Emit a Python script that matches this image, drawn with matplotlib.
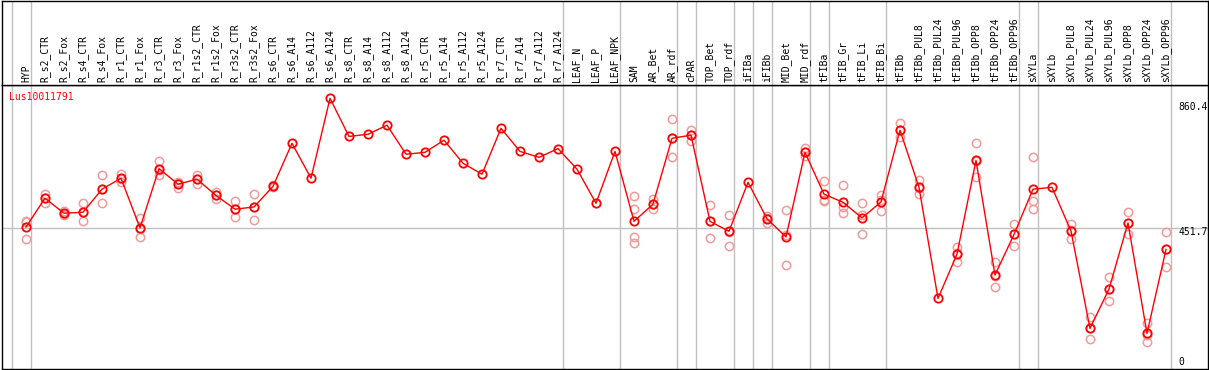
import matplotlib
matplotlib.use("Agg")
import matplotlib.pyplot as plt

gene = "Lus10011791"

samples = [
    "HYP", "R_s2_CTR", "R_s2_Fox", "R_s4_CTR", "R_s4_Fox", "R_r1_CTR", "R_r1_Fox",
    "R_r3_CTR", "R_r3_Fox", "R_r1s2_CTR", "R_r1s2_Fox", "R_r3s2_CTR", "R_r3s2_Fox",
    "R_s6_CTR", "R_s6_A14", "R_s6_A112", "R_s6_A124", "R_s8_CTR", "R_s8_A14",
    "R_s8_A112", "R_s8_A124", "R_r5_CTR", "R_r5_A14", "R_r5_A112", "R_r5_A124",
    "R_r7_CTR", "R_r7_A14", "R_r7_A112", "R_r7_A124", "LEAF_N", "LEAF_P", "LEAF_NPK",
    "SAM", "AR_Bet", "AR_rdf", "cPAR", "TOP_Bet", "TOP_rdf", "iFIBa", "iFIBb",
    "MID_Bet", "MID_rdf", "tFIBa", "tFIB_Gr", "tFIB_Li", "tFIB_Bi", "tFIBb",
    "tFIBb_PUL8", "tFIBb_PUL24", "tFIBb_PUL96", "tFIBb_OPP8", "tFIBb_OPP24",
    "tFIBb_OPP96", "sXYLa", "sXYLb", "sXYLb_PUL8", "sXYLb_PUL24", "sXYLb_PUL96",
    "sXYLb_OPP8", "sXYLb_OPP24", "sXYLb_OPP96",
]

means = [
    455, 547, 499, 502, 576, 611, 452, 642, 592, 608, 556, 512, 519,
    585, 723, 611, 867, 745, 752, 781, 688, 694, 733, 659, 624,
    771, 697, 678, 706, 640, 531, 697,
    473, 528, 739, 749, 473, 441, 598, 481, 423, 694,
    560, 534, 484, 535, 765, 582, 226, 368, 668, 301, 431,
    576, 582, 442, 130, 256, 468, 114, 383,
]

replicates = [
    [475, 470, 415], [560, 548, 531], [507, 497, 493], [531, 502, 474],
    [620, 576, 531], [625, 608, 600], [484, 450, 422], [665, 638, 622],
    [599, 597, 579], [622, 609, 593], [568, 557, 544], [537, 513, 486],
    [560, 520, 476], [588, 585, 582],
    [], [], [], [], [], [], [], [], [], [], [], [], [], [], [], [], [], [],
    [553, 512, 424, 405], [544, 528, 513], [800, 739, 678], [766, 749, 731],
    [524, 475, 420], [492, 438, 393], [], [491, 484, 468],
    [509, 428, 332], [708, 694, 681], [602, 540, 538], [588, 518, 499],
    [531, 493, 432], [558, 542, 505], [788, 765, 743], [605, 581, 561],
    [], [390, 371, 343], [723, 666, 616], [343, 298, 263], [465, 434, 394],
    [678, 537, 512], [], [464, 446, 415], [166, 130, 96], [294, 256, 218],
    [503, 468, 431], [147, 110, 86], [438, 385, 327],
]

# group separators sit just after these sample indices
dividers = [-1, 0, 28, 31, 34, 35, 37, 38, 39, 41, 42, 45, 52, 53, 60]

y_max = 860.4
y_mid = 451.7

W, H = 1209, 370
GRAY = "#c0c0c0"
FONT = "DejaVu Sans Mono"


def px_box(left, top, right, bottom):
    # pixel box (from top-left) -> figure fraction rect
    return [left / W, (H - bottom) / H, (right - left) / W, (bottom - top) / H]


def main():
    fig = plt.figure(figsize=(W / 100, H / 100), dpi=100)
    ax = fig.add_axes(px_box(1.5, 85, 1207.5, 369))
    head = fig.add_axes(px_box(1.5, 0.5, 1207.5, 85))

    xlim = ((1.5 - 26) / 19, (1207.5 - 26) / 19)
    for a in (ax, head):
        a.set_xlim(*xlim)
        a.set_xticks([])
        a.set_yticks([])
        for s in a.spines.values():
            s.set_color("black")
            s.set_linewidth(1.0)
        for d in dividers:
            a.axvline(d + 0.25, color=GRAY, lw=1.0, zorder=0)

    ax.set_ylim(0, 909.7)
    head.set_ylim(0, 1)

    ax.axhline(y_mid, color=GRAY, lw=1.0, zorder=0)

    for i, reps in enumerate(replicates):
        if reps:
            ax.plot([i] * len(reps), reps, "o", ms=6, mfc="none",
                    mec="#f29a9a", mew=1.1, zorder=2)

    x = list(range(len(samples)))
    ax.plot(x, means, "-", color="red", lw=1.0, zorder=3)
    ax.plot(x, means, "o", ms=6, mfc="none", mec="red", mew=1.3, zorder=4)

    for i, name in enumerate(samples):
        head.text(i, 0.03, name, rotation=90, ha="center", va="bottom",
                  family=FONT, fontsize=7, color="black")

    ax.text(0.0065, 0.977, gene, transform=ax.transAxes, ha="left", va="top",
            family=FONT, fontsize=7, color="red")

    xr = (1178.5 - 26) / 19
    for val, lab, dy in [(y_max, "860.4", -4.7), (y_mid, "451.7", -2.9), (0, "0", 5.0)]:
        ax.annotate(lab, (xr, val), xytext=(0, dy), textcoords="offset points",
                    ha="left", va="center", family=FONT, fontsize=7,
                    color="black", annotation_clip=False, clip_on=True)

    fig.savefig("out.png", dpi=100)


if __name__ == "__main__":
    main()
